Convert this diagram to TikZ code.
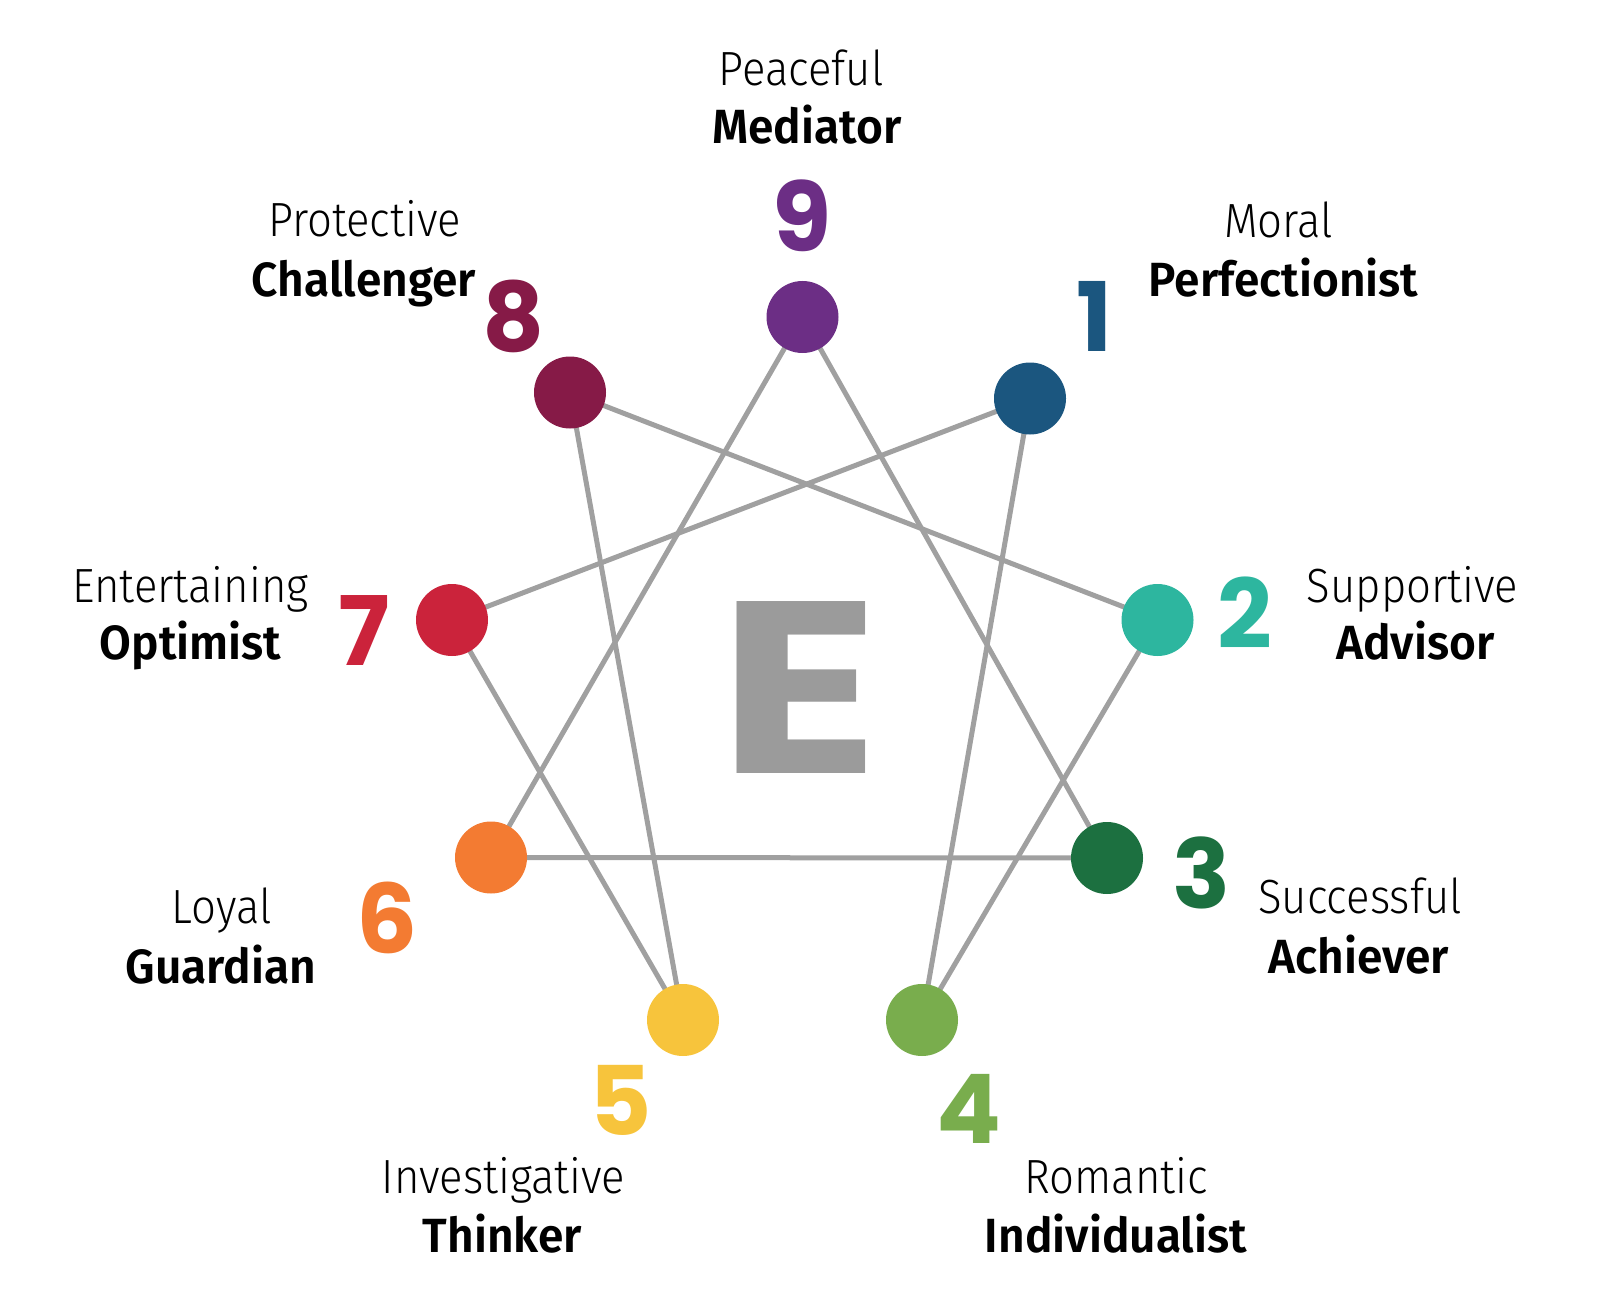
\documentclass[tikz,border=0pt]{standalone}
\usepackage{fontspec}
\newfontfamily\lightf{Fira Sans Light}[FakeStretch=0.91]
\newfontfamily\boldf{Fira Sans SemiBold}[FakeStretch=0.96]
\newfontfamily\numf{Poppins}
\definecolor{c9}{HTML}{6C2E85}
\definecolor{c1}{HTML}{1B567F}
\definecolor{c2}{HTML}{2DB69F}
\definecolor{c3}{HTML}{1C7040}
\definecolor{c4}{HTML}{79AD4D}
\definecolor{c5}{HTML}{F7C43C}
\definecolor{c6}{HTML}{F37B32}
\definecolor{c7}{HTML}{CB233B}
\definecolor{c8}{HTML}{861A47}
\definecolor{linegray}{HTML}{A0A0A0}
\definecolor{egray}{HTML}{9B9B9B}
\tikzset{
  dot/.style={circle,fill=#1,minimum size=72pt,inner sep=0pt},
  conn/.style={draw=linegray,line width=5pt},
  lighttxt/.style={anchor=base,inner sep=0pt,font=\lightf\fontsize{48}{58}\selectfont},
  boldtxt/.style={anchor=base,inner sep=0pt,font=\boldf\fontsize{48}{58}\selectfont},
  numtxt/.style={anchor=base,inner sep=0pt,text=#1,font=\numf\bfseries\fontsize{96}{100}\selectfont},
}
\begin{document}
\begin{tikzpicture}[x=1pt,y=-1pt]
\useasboundingbox (0,0) rectangle (1600,1313);
% central letter
\node[anchor=base,inner sep=0pt,text=egray,font=\numf\bfseries\fontsize{245}{250}\selectfont] (E) at (799.5,773) {\scalebox{1.22}[1]{E}};
% point coordinates
\coordinate (p9) at (802.5,317);
\coordinate (p1) at (1030,398.5);
\coordinate (p2) at (1157.5,620);
\coordinate (p3) at (1107,858);
\coordinate (p4) at (922,1020);
\coordinate (p5) at (683,1020);
\coordinate (p6) at (491,857.5);
\coordinate (p7) at (452,620);
\coordinate (p8) at (570,392.5);
% connectors
\draw[conn] (p9) -- (p3);
\draw[conn] (p9) -- (p6);
\draw[conn] (p6) -- (p3);
\draw[conn] (p1) -- (p7);
\draw[conn] (p1) -- (p4);
\draw[conn] (p2) -- (p8);
\draw[conn] (p2) -- (p4);
\draw[conn] (p8) -- (p5);
\draw[conn] (p7) -- (p5);
% dots
\node[dot=c9] (n9) at (p9) {};
\node[dot=c1] (n1) at (p1) {};
\node[dot=c2] (n2) at (p2) {};
\node[dot=c3] (n3) at (p3) {};
\node[dot=c4] (n4) at (p4) {};
\node[dot=c5] (n5) at (p5) {};
\node[dot=c6] (n6) at (p6) {};
\node[dot=c7] (n7) at (p7) {};
\node[dot=c8] (n8) at (p8) {};
% numbers
\node[numtxt=c9] (d9) at (802.5,252) {9};
\node[numtxt=c1] (d1) at (1094.5,352) {1};
\node[numtxt=c2] (d2) at (1244.5,648) {2};
\node[numtxt=c3] (d3) at (1202,908) {3};
\node[numtxt=c4] (d4) at (968.5,1143) {4};
\node[numtxt=c5] (d5) at (620.5,1135) {5};
\node[numtxt=c6] (d6) at (387.5,953) {6};
\node[numtxt=c7] (d7) at (364,665) {7};
\node[numtxt=c8] (d8) at (513.5,352) {8};
% labels
\node[lighttxt] (l9a) at (801,86) {Peaceful};
\node[boldtxt] (l9b) at (807,144) {Mediator};
\node[lighttxt] (l1a) at (1278.5,238) {Moral};
\node[boldtxt] (l1b) at (1283.5,297) {Perfectionist};
\node[lighttxt] (l2a) at (1412.5,602) {Supportive};
\node[boldtxt] (l2b) at (1415.5,659) {Advisor};
\node[lighttxt] (l3a) at (1360,913) {Successful};
\node[boldtxt] (l3b) at (1359,973) {Achiever};
\node[lighttxt] (l4a) at (1116,1193) {Romantic};
\node[boldtxt] (l4b) at (1116,1252) {Individualist};
\node[lighttxt] (l5a) at (503.5,1193) {Investigative};
\node[boldtxt] (l5b) at (502.5,1252) {Thinker};
\node[lighttxt] (l6a) at (221.5,923) {Loyal};
\node[boldtxt] (l6b) at (221,983) {Guardian};
\node[lighttxt] (l7a) at (190.5,602) {Entertaining};
\node[boldtxt] (l7b) at (190.5,659) {Optimist};
\node[lighttxt] (l8a) at (364.5,237) {Protective};
\node[boldtxt] (l8b) at (364,297) {Challenger};
\end{tikzpicture}
\end{document}
